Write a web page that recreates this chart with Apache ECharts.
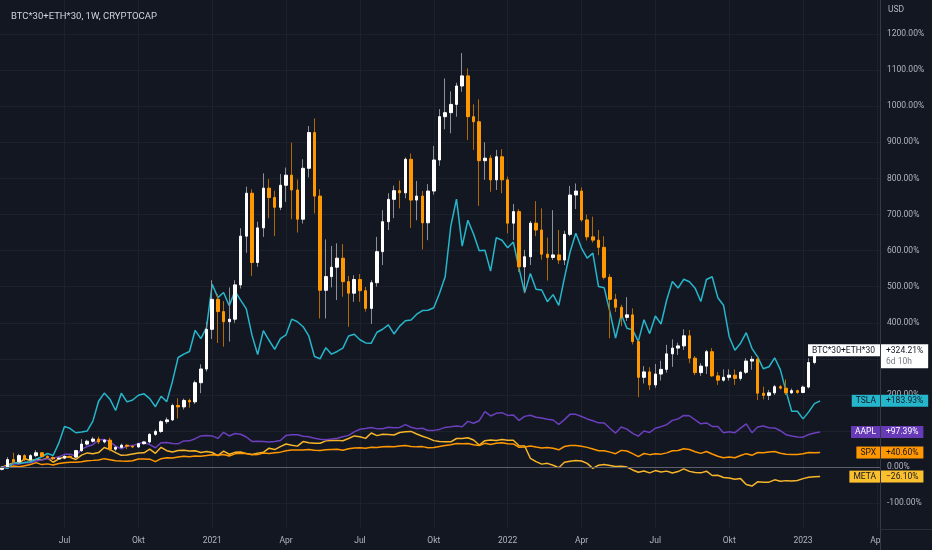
<!DOCTYPE html>
<html>
<head>
<meta charset="utf-8">
<script src="https://cdn.jsdelivr.net/npm/echarts@6.0.0/dist/echarts.min.js"></script>
<style>
html,body{margin:0;padding:0;background:#131722;overflow:hidden;}
#chart{width:932px;height:550px;}
</style>
</head>
<body>
<div id="chart"></div>
<script>
// ---------------- data ----------------
const firstBar = '2020-04-20'; // Monday of the first weekly bar

const candleOpen = [-6,1,21,15,32,21,32,40,30,27, 23,25,30,28,46,64,72,78,70,75, 50,55,61,58,56,65,70,91,99,126,
 131,171,167,185,181,234,272,382,465,431, 403,410,505,640,759,567,663,773,747,720, 781,809,768,687,828,927,751,490,528,554,
 579,514,482,520,489,440,511,597,680,742, 766,760,853,740,751,677,765,851,971,982, 1005,1056,1084,971,957,849,856,796,860,796,
 676,708,555,583,676,657,590,581,588,574, 645,754,765,685,638,629,609,526,465,443, 415,422,348,249,264,228,258,271,314,330,
 336,364,302,262,280,320,253,241,249,255, 246,263,294,299,205,199,206,223,219,206, 212,207,222,290,321];
const candleClose = [0,21,15,32,21,32,40,30,27,23, 25,30,28,46,64,72,78,70,75,50, 55,61,58,56,65,70,91,99,126,131,
 171,167,185,181,234,272,382,465,431,403, 410,505,640,759,567,663,773,747,720,781, 809,768,687,828,927,751,490,528,554,579,
 514,482,520,489,440,511,597,680,742,766, 760,853,740,751,677,765,851,971,982,1005, 1056,1084,971,957,849,856,796,860,796,676,
 708,555,583,676,657,590,581,588,574,645, 754,765,685,638,629,609,526,465,443,415, 422,348,249,264,228,258,271,314,330,336,
 364,302,262,280,320,253,241,249,255,246, 263,294,299,205,199,206,223,219,206,212, 207,222,290,321,324.21];
const candleHigh = [2,28,40,37,36,36,47,42,33,30, 28,33,32,48,78,76,84,85,78,82, 58,65,63,61,67,72,94,104,130,138,
 176,191,190,190,240,285,403,518,480,460, 498,518,662,777,770,680,814,798,766,812, 830,899,797,853,945,966,770,631,613,620,
 618,530,532,535,499,518,638,712,759,780, 794,858,869,793,765,784,890,992,1077,1041, 1065,1147,1105,1005,1019,900,865,879,881,805,
 729,715,602,682,737,717,636,712,657,655, 779,786,775,700,694,657,640,535,480,450, 471,440,352,280,277,286,295,339,354,345,
 382,380,308,288,325,330,264,271,271,271, 266,302,308,306,223,214,228,228,243,218, 215,226,302,333,327];
const candleLow = [-9,-1,8,8,17,17,28,28,23,20, 20,23,25,26,42,60,68,64,66,44, 45,52,50,53,54,63,66,87,95,120,
 128,135,160,165,175,205,265,355,344,334, 348,400,495,594,530,555,638,690,640,712, 735,687,650,675,803,703,412,412,498,463,
 472,389,458,458,431,397,500,560,657,690, 717,745,663,684,603,629,755,835,936,925, 971,1040,906,879,724,796,763,768,759,648,
 629,541,482,560,640,575,517,574,563,560, 640,715,680,628,622,587,520,357,430,391, 405,340,194,232,214,220,240,262,278,311,
 325,288,255,253,258,250,228,237,240,228, 240,258,270,186,188,186,200,215,200,203, 203,205,218,285,318];

const tsla = [0,-3.3,13.0,10.2,12.7,15.2,22.1,29.0,38.0,32.4, 66.7,113.0,107.0,95.4,97.3,100.3,127.7,182.7,205.3,188.5,
 157.0,204.9,180.9,186.2,199.3,203.2,190.0,167.6,196.5,181.7, 237.6,303.9,313.1,320.6,379.2,356.3,386.6,
 506.8,469.7,483.8,447.2,487.7,462.8,438.7,365.8,312.3,378.4, 351.6,326.6,356.3,366.8,410.1,403.0,389.2,363.6,306.7,300.6,
 331.1,313.1,320.6,329.8,363.3,368.1,353.0,344.2,343.6,373.9, 382.1,394.5,369.1,390.9,405.8,407.7,423.7,434.0,434.6,441.6,
 481.3,527.3,668.2,742.7,612.6,684.1,646.1,599.9,601.3,543.1, 635.8,628.7,
 608.1,623.8,550.9,483.6,536.7,493.0,490.9,458.5,478.0,448.4, 524.3,596.9,647.9,607.1,579.2,593.0,500.4,496.9,430.7,357.8,
 423.8,385.1,380.4,348.4,408.3,370.1,418.7,396.6,463.2,514.7, 496.1,520.7,513.7,496.0,459.0,520.0,527.5,469.6,448.7,361.5,
 324.0,343.6,372.7,329.2,305.4,272.8,278.3,303.1,270.4,210.8, 154.8,154.8,133.9,153.2,176.0,183.93];
const aapl = [0,2.2,9.6,8.8,12.7,12.4,17.2,19.7,23.6,25.0, 28.7,35.6,36.2,30.9,50.2,57.1,62.4,75.8,76.4,71.0,
 58.3,51.0,58.7,59.8,65.4,68.2,62.6,53.9,67.8,68.6, 65.9,64.8,72.8,73.0,79.0,86.6,87.6,
 86.7,79.7,96.6,86.5,93.3,91.4,83.6,71.4,71.6,71.1, 69.6,71.3,73.9,88.0,89.7,89.9,85.8,84.1,80.2,77.3,
 76.2,78.0,80.0,84.4,88.2,97.9,105.1,106.9,110.0,106.2, 106.6,110.8,109.5,110.1,118.1,110.6,106.5,107.7,101.7,102.0,
 104.7,110.2,111.8,113.9,112.0,127.0,121.7,128.8,153.7,141.9, 149.2,151.0,
 143.4,144.7,129.6,140.8,143.7,138.4,136.5,133.0,130.7,118.7, 131.8,147.0,146.4,140.4,133.7,128.7,122.9,122.3,108.0,94.5,
 111.5,105.5,93.9,86.0,100.3,96.4,107.9,112.3,117.8,129.7, 133.7,143.3,142.5,131.3,120.3,122.5,113.0,112.7,95.4,98.0,
 95.6,108.2,120.2,95.6,111.6,113.9,109.4,108.9,101.0,90.1, 86.4,83.7,83.2,90.5,94.9,97.39];
const spx = [0,-0.2,3.3,1.0,4.2,7.3,12.6,7.2,9.2,6.1, 10.3,12.3,13.7,13.4,15.3,18.1,18.9,19.8,23.7,20.8,
 17.8,17.0,16.3,18.0,22.6,22.8,22.2,15.3,23.7,26.4, 25.4,28.3,30.4,29.1,30.8,30.5,32.4,
 34.8,32.8,35.4,30.9,37.0,38.7,37.7,34.3,35.4,39.0, 37.9,40.1,41.7,45.5,47.5,47.3,47.4,49.2,47.1,46.5,
 48.2,49.1,49.7,46.8,50.9,53.4,54.0,52.5,55.5,54.9, 56.4,57.5,56.6,58.9,59.9,57.2,56.3,57.0,53.6,54.8,
 57.6,60.2,62.3,65.6,65.1,65.6,62.0,60.0,66.1,62.9, 66.6,68.0,
 64.9,64.4,55.0,56.2,58.6,55.8,53.3,54.6,52.6,48.2, 57.3,60.1,60.2,58.2,54.9,50.6,45.6,45.3,41.8,37.5,
 46.6,44.8,37.5,29.5,37.9,34.8,37.4,36.2,39.7,45.6, 46.1,50.9,49.0,43.0,38.3,43.4,36.5,30.2,26.4,28.3,
 26.3,32.3,37.5,32.9,40.7,39.8,41.9,43.5,38.7,35.8, 35.5,35.4,37.3,41.0,40.0,40.6];
const meta = [0,6.4,11.7,10.9,23.6,18.4,21.4,20.3,25.6,13.7, 22.8,28.9,27.3,21.4,33.5,39.6,37.4,40.5,54.5,48.7,
 40.3,32.9,34.1,36.8,39.1,39.9,49.8,38.4,55.0,45.7, 41.9,46.2,47.2,45.0,45.4,40.7,43.7,
 40.8,32.2,44.4,35.9,41.1,42.3,37.6,35.5,39.0,41.2, 52.6,48.9,57.1,64.4,61.1,58.4,71.0,67.9,66.2,66.4,
 73.0,73.8,74.3,73.4,79.6,86.6,84.4,79.8,94.6,87.5, 91.3,90.8,89.1,96.0,98.0,99.2,91.9,85.7,80.5,73.6,
 70.9,70.8,70.2,79.5,79.4,81.7,75.3,61.4,73.5,75.6, 73.9,77.0,
 74.6,74.6,59.5,58.7,24.7,15.5,8.5,10.7,5.3,-1.3, 13.9,16.7,18.3,17.0,10.6,-3.1,5.5,7.2,4.5,1.8,
 2.7,0.4,-7.6,-13.9,-10.5,-15.8,-9.4,-13.3,-10.9,-16.3, -12.1,-4.8,-11.6,-14.9,-15.7,-11.0,-23.0,-22.5,-28.6,-29.8,
 -33.3,-31.6,-47.8,-52.2,-40.5,-41.4,-41.4,-35.0,-39.0,-37.2, -37.9,-36.7,-31.6,-27.9,-26.7,-26.1];

const tickDates = ['2020-07-06','2020-10-05','2021-01-04','2021-04-05','2021-07-05','2021-10-04',
                   '2022-01-03','2022-04-04','2022-07-04','2022-10-03','2023-01-02','2023-04-03'];
const tickLabels = ['Jul','Okt','2021','Apr','Jul','Okt','2022','Apr','Jul','Okt','2023','Apr'];
const yTicks = [-100,0,100,200,300,400,500,600,700,800,900,1000,1100,1200];

const tagNames  = ['TSLA','AAPL','SPX','META'];
const tagValues = [183.93, 97.39, 40.60, -26.10];
const tagTexts  = ['+183.93%','+97.39%','+40.60%','\u221226.10%'];
const mainTagName = 'BTC*30+ETH*30';
const mainTagValue = 324.21;
const mainTagText = '+324.21%';
const mainTagTimer = '6d 10h';

// ---------------- styling ----------------
const BG = '#131722';
const COL = { TSLA: '#26b6cb', AAPL: '#6b3fbd', SPX: '#ff9800', META: '#f7b52a' };
const TAGBG = { TSLA: '#26b6cb', AAPL: '#673ab7', SPX: '#ff9800', META: '#fbc02d' };
const TAGFG = { TSLA: '#131722', AAPL: '#ffffff', SPX: '#131722', META: '#131722' };
const FONT = 'Roboto, "Noto Sans", sans-serif';

const DAY = 86400000;
const t0 = Date.parse(firstBar + 'T00:00:00Z');
const times = candleOpen.map((_, i) => t0 + i * 7 * DAY);
const tickTs = tickDates.map(d => Date.parse(d + 'T00:00:00Z'));

const wickData = times.map((t, i) => [t, candleOpen[i], candleClose[i], candleLow[i], candleHigh[i]]);
const bodyData = times.map((t, i) => [t, candleOpen[i], candleClose[i],
  Math.min(candleOpen[i], candleClose[i]), Math.max(candleOpen[i], candleClose[i])]);
const lineData = arr => arr.map((v, i) => [times[i], v]);

const chart = echarts.init(document.getElementById('chart'));

function lineSeries(name, arr, z) {
  return {
    name, type: 'line', data: lineData(arr), showSymbol: false, symbol: 'none',
    lineStyle: { color: COL[name], width: 1.5 }, itemStyle: { color: COL[name] },
    z, silent: true, animation: false
  };
}

const option = {
  backgroundColor: BG,
  animation: false,
  title: {
    text: 'BTC*30+ETH*30, 1W, CRYPTOCAP', left: 6, top: 7,
    textStyle: { color: '#d1d4dc', fontSize: 9.5, fontWeight: 'normal', fontFamily: FONT }
  },
  grid: { left: 0, right: 52, top: 0, bottom: 21, containLabel: false },
  xAxis: {
    type: 'value',
    min: t0 - 2.464 * DAY,
    max: t0 + 1081.8 * DAY,
    axisLine: { show: true, lineStyle: { color: '#2a2e39', width: 1 } },
    axisTick: { show: false, customValues: tickTs },
    splitLine: { show: true, lineStyle: { color: '#1d212c', width: 1 } },
    axisLabel: {
      customValues: tickTs, color: '#b2b5be', fontSize: 8.5, fontFamily: FONT, margin: 7,
      formatter: v => {
        const k = tickTs.findIndex(t => Math.abs(t - v) < DAY);
        return k >= 0 ? tickLabels[k] : '';
      }
    }
  },
  yAxis: {
    type: 'value', position: 'right',
    min: -171.2, max: 1294.2,
    axisLine: { show: true, lineStyle: { color: '#363a45', width: 1 } },
    axisTick: { show: false, customValues: yTicks },
    splitLine: { show: true, lineStyle: { color: '#1d212c', width: 1 } },
    axisLabel: {
      customValues: yTicks, color: '#b2b5be', fontSize: 8.5, fontFamily: FONT, margin: 7, align: 'left',
      formatter: v => v.toFixed(2) + '%'
    }
  },
  series: [
    Object.assign(lineSeries('META', meta, 2), {}),
    Object.assign(lineSeries('SPX', spx, 2), {
      markLine: {
        silent: true, symbol: 'none', label: { show: false },
        lineStyle: { color: '#5d606b', type: 'solid', width: 1 },
        data: [{ yAxis: 0 }]
      }
    }),
    lineSeries('AAPL', aapl, 2),
    lineSeries('TSLA', tsla, 2),
    {
      name: 'wick', type: 'candlestick', data: wickData, encode: { x: 0, y: [1, 2, 3, 4] },
      barWidth: 0.2, z: 3, silent: true,
      itemStyle: { color: '#8d9099', color0: '#b26a00', borderColor: '#8d9099', borderColor0: '#b26a00', borderWidth: 1 }
    },
    {
      name: 'body', type: 'candlestick', data: bodyData, encode: { x: 0, y: [1, 2, 3, 4] },
      barWidth: 3, z: 4, silent: true,
      itemStyle: { color: '#ffffff', color0: '#ff9800', borderColor: '#ffffff', borderColor0: '#ff9800', borderWidth: 1 }
    }
  ]
};
chart.setOption(option);

// ---------------- tags / overlays ----------------
const py = v => chart.convertToPixel({ yAxisIndex: 0 }, v);
const AX = 880.5;
const graphics = [];

// hide the part of the last time label that falls under the price scale
graphics.push({ type: 'rect', z: 90, silent: true,
  shape: { x: 881, y: 530, width: 51, height: 20 }, style: { fill: BG } });
graphics.push({ type: 'line', z: 91, silent: true,
  shape: { x1: AX, y1: 0, x2: AX, y2: 550 }, style: { stroke: '#363a45', lineWidth: 1 } });
graphics.push({ type: 'line', z: 91, silent: true,
  shape: { x1: 880, y1: 529.5, x2: 932, y2: 529.5 }, style: { stroke: '#2a2e39', lineWidth: 1 } });
graphics.push({ type: 'text', z: 92, silent: true, x: 888, y: 10,
  style: { text: 'USD', fill: '#b2b5be', fontSize: 8.5, fontFamily: FONT, verticalAlign: 'middle', align: 'left' } });

tagNames.forEach((n, i) => {
  const y = py(tagValues[i]);
  graphics.push({ type: 'text', z: 100, silent: true, x: 880, y,
    style: { text: n, fill: TAGFG[n], fontSize: 8.5, fontFamily: FONT, align: 'right', verticalAlign: 'middle',
      backgroundColor: TAGBG[n], padding: [2, 4, 1, 4], lineHeight: 9 } });
  graphics.push({ type: 'text', z: 100, silent: true, x: 881, y,
    style: { text: tagTexts[i], fill: TAGFG[n], fontSize: 8.5, fontFamily: FONT, align: 'left', verticalAlign: 'middle',
      backgroundColor: TAGBG[n], padding: [2, 5, 1, 5], lineHeight: 9 } });
});

const ym = py(mainTagValue);
graphics.push({ type: 'text', z: 100, silent: true, x: 880, y: ym - 6,
  style: { text: mainTagName, fill: '#131722', fontSize: 8.5, fontFamily: FONT, align: 'right', verticalAlign: 'top',
    backgroundColor: '#ffffff', padding: [2, 5, 1, 4], lineHeight: 9 } });
graphics.push({ type: 'text', z: 100, silent: true, x: 881, y: ym - 6,
  style: { text: '{a|' + mainTagText + '}\n{b|' + mainTagTimer + '}', fontSize: 8.5, fontFamily: FONT,
    align: 'left', verticalAlign: 'top', backgroundColor: '#ffffff', padding: [2, 5, 1, 5],
    rich: { a: { fill: '#131722', fontSize: 8.5, fontFamily: FONT, lineHeight: 10 },
            b: { fill: '#787b86', fontSize: 8.5, fontFamily: FONT, lineHeight: 11 } } } });

chart.setOption({ graphic: graphics });
</script>
</body>
</html>
